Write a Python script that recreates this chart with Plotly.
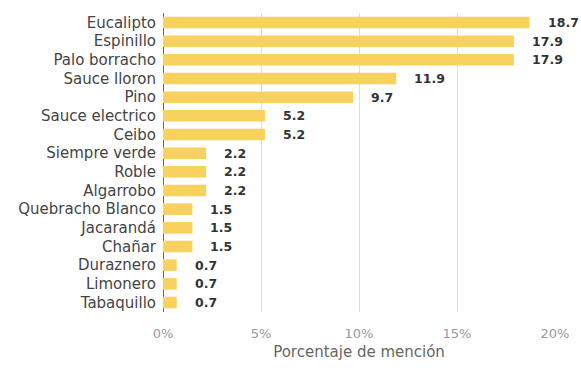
import plotly.graph_objects as go

especies = ["Eucalipto", "Espinillo", "Palo borracho", "Sauce lloron", "Pino",
            "Sauce electrico", "Ceibo", "Siempre verde", "Roble", "Algarrobo",
            "Quebracho Blanco", "Jacarandá", "Chañar", "Duraznero", "Limonero",
            "Tabaquillo"]
porcentajes = [18.7, 17.9, 17.9, 11.9, 9.7, 5.2, 5.2, 2.2, 2.2, 2.2,
               1.5, 1.5, 1.5, 0.7, 0.7, 0.7]
tick_vals = [0, 5, 10, 15, 20]
tick_text = ["0%", "5%", "10%", "15%", "20%"]

FONT = "DejaVu Sans, Verdana, sans-serif"

fig = go.Figure(go.Bar(
    x=porcentajes, y=especies, orientation="h",
    marker=dict(color="#F8D15F", line=dict(width=0)),
    width=0.62,
))

# value labels placed to the right of each bar
for esp, val in zip(especies, porcentajes):
    fig.add_annotation(x=val, y=esp, text=f"<b>{val:.1f}</b>", showarrow=False,
                       xanchor="left", xshift=16, yshift=0,
                       font=dict(family=FONT, size=12.5, color="#333333"))

fig.update_layout(
    width=581, height=374,
    margin=dict(l=163, r=26, t=13, b=62),
    paper_bgcolor="white", plot_bgcolor="white",
    showlegend=False,
    font=dict(family=FONT, color="#444444"),
    xaxis=dict(
        range=[0, 20], tickvals=tick_vals, ticktext=tick_text,
        showgrid=True, gridcolor="#DDDDDD", gridwidth=1,
        zeroline=True, zerolinecolor="#666666", zerolinewidth=1,
        tickfont=dict(size=13, color="#999999"),
        ticklabelstandoff=12,
        title=dict(text="Porcentaje de mención", standoff=6,
                   font=dict(size=15, color="#666666")),
    ),
    yaxis=dict(
        categoryorder="array", categoryarray=especies[::-1],
        showgrid=False, tickfont=dict(size=15, color="#444444"),
        ticklabelstandoff=6,
    ),
)

fig.write_html("out.html")
